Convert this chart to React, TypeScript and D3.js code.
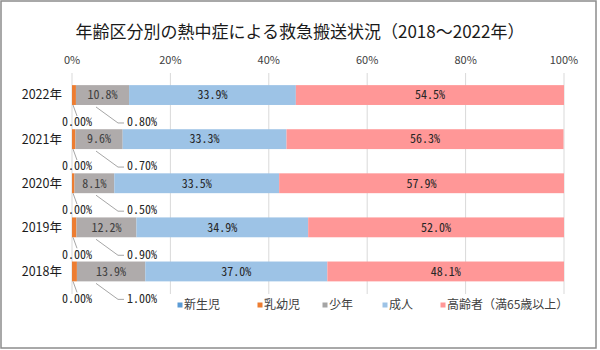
import * as d3 from 'd3';

const years = ['2022年', '2021年', '2020年', '2019年', '2018年'];
const seriesNames = ['新生児', '乳幼児', '少年', '成人', '高齢者（満65歳以上）'];
const newborn = [0, 0, 0, 0, 0];
const infant = [0.8, 0.7, 0.5, 0.9, 1.0];
const youth = [10.8, 9.6, 8.1, 12.2, 13.9];
const adult = [33.9, 33.3, 33.5, 34.9, 37.0];
const elderly = [54.5, 56.3, 57.9, 52.0, 48.1];
const ticks = [0, 20, 40, 60, 80, 100];

const barColors = ['#5B9BD5', '#ED7D31', '#AFABAB', '#9DC3E6', '#FF9797'];
const legendColors = ['#5B9BD5', '#ED7D31', '#A5A5A5', '#9DC3E6', '#FF9797'];
const legendX = [180, 260, 325, 385, 443];

const W = 600;
const H = 350;
const margin = { left: 72, right: 36, top: 73, bottom: 56 };

const jp = "'Noto Sans CJK JP', 'Noto Sans', sans-serif";
const mono = "'Noto Sans Mono CJK JP', 'DejaVu Sans Mono', monospace";

export default function App() {
  const keys = ['newborn', 'infant', 'youth', 'adult', 'elderly'];
  const rows = years.map((y, i) => ({
    year: y,
    newborn: newborn[i],
    infant: infant[i],
    youth: youth[i],
    adult: adult[i],
    elderly: elderly[i],
  }));
  const stacked = d3.stack<any>().keys(keys)(rows);

  const x = d3.scaleLinear().domain([0, 100]).range([margin.left, W - margin.right]);
  const y = d3
    .scaleBand()
    .domain(years)
    .range([margin.top, H - margin.bottom - 0.5])
    .paddingInner(0.55)
    .paddingOuter(0.275);
  const bh = y.bandwidth();
  const x0 = x(0);

  return (
    <svg
      width={W}
      height={H}
      style={{ position: 'absolute', left: 0, top: 0, background: '#fff' }}
    >
      <rect x={1} y={1} width={595} height={347} fill="#fff" stroke="#8c8c8c" strokeWidth={1.5} />
      <text
        x={300}
        y={33}
        textAnchor="middle"
        dominantBaseline="middle"
        fontFamily={jp}
        fontSize={17}
        fill="#1a1a1a"
      >
        年齢区分別の熱中症による救急搬送状況（2018～2022年）
      </text>

      {/* grid + top axis */}
      {ticks.map((t) => (
        <g key={t}>
          <line
            x1={x(t)}
            x2={x(t)}
            y1={margin.top}
            y2={H - margin.bottom}
            stroke="#D9D9D9"
            strokeWidth={1}
          />
          <text
            x={x(t)}
            y={61}
            textAnchor="middle"
            dominantBaseline="middle"
            fontFamily={jp}
            fontSize={11}
            fill="#404040"
          >
            {t}%
          </text>
        </g>
      ))}

      {/* bars */}
      {stacked.map((s, si) => (
        <g key={s.key}>
          {s.map((d, i) => (
            <rect
              key={i}
              x={x(d[0])}
              y={y(years[i])}
              width={Math.max(0, x(d[1]) - x(d[0]))}
              height={bh}
              fill={barColors[si]}
            />
          ))}
        </g>
      ))}

      {/* in-bar labels */}
      {stacked.slice(2).map((s, k) => (
        <g key={s.key + 'l'}>
          {s.map((d, i) => (
            <text
              key={i}
              x={(x(d[0]) + x(d[1])) / 2}
              y={(y(years[i]) as number) + bh / 2 + 1}
              textAnchor="middle"
              dominantBaseline="middle"
              fontFamily={mono}
              fontSize={12}
              fill={k === 0 ? '#404040' : '#262626'}
            >
              {(d[1] - d[0]).toFixed(1)}%
            </text>
          ))}
        </g>
      ))}

      {/* leader labels for small segments */}
      {years.map((yr, i) => {
        const bottom = (y(yr) as number) + bh;
        const ly = bottom + 18;
        return (
          <g key={yr + 'lead'}>
            <polyline
              points={`${x0 + 1},${bottom} ${x0 + 5},${bottom + 11}`}
              fill="none"
              stroke="#A6A6A6"
              strokeWidth={1}
            />
            <text
              x={x0 + 5}
              y={ly}
              textAnchor="middle"
              dominantBaseline="middle"
              fontFamily={mono}
              fontSize={12}
              fill="#262626"
            >
              {newborn[i].toFixed(2)}%
            </text>
            <polyline
              points={`${x0 + 24},${bottom + 2} ${x0 + 46},${ly} ${x0 + 52},${ly}`}
              fill="none"
              stroke="#A6A6A6"
              strokeWidth={1}
            />
            <text
              x={x0 + 55}
              y={ly}
              textAnchor="start"
              dominantBaseline="middle"
              fontFamily={mono}
              fontSize={12}
              fill="#262626"
            >
              {infant[i].toFixed(2)}%
            </text>
          </g>
        );
      })}

      {/* y axis labels */}
      {years.map((yr) => (
        <text
          key={yr}
          x={62}
          y={(y(yr) as number) + bh / 2 + 1}
          textAnchor="end"
          dominantBaseline="middle"
          fontFamily={jp}
          fontSize={12.5}
          fill="#1a1a1a"
        >
          {yr}
        </text>
      ))}

      {/* legend */}
      {seriesNames.map((n, i) => (
        <g key={n} transform={`translate(${legendX[i]},305)`}>
          <rect x={-2.5} y={-2.5} width={5} height={5} fill={legendColors[i]} />
          <text
            x={4}
            y={1}
            dominantBaseline="middle"
            fontFamily={jp}
            fontSize={12}
            fill="#404040"
          >
            {n}
          </text>
        </g>
      ))}
    </svg>
  );
}
